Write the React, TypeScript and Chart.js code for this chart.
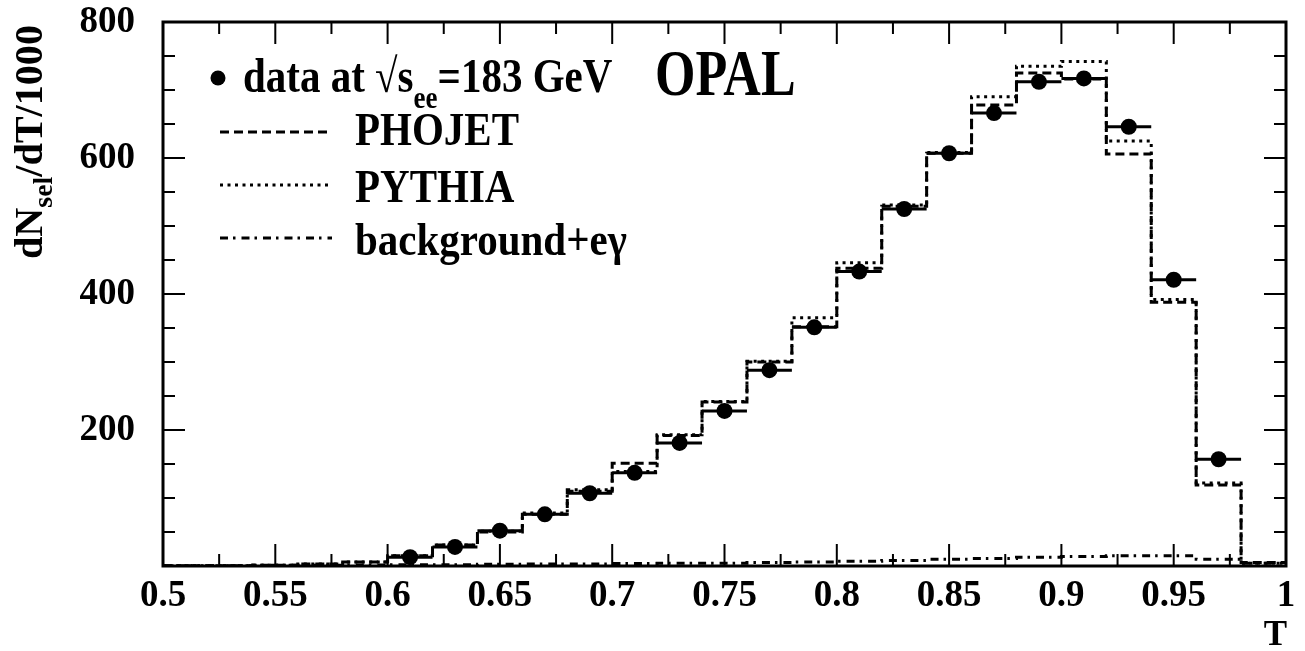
import React, { useEffect, useRef } from 'react';
import { Chart, registerables } from 'chart.js';

Chart.register(...registerables);

// ---- data ----
const BIN_EDGES = [0.5, 0.52, 0.54, 0.56, 0.58, 0.6, 0.62, 0.64, 0.66, 0.68, 0.7, 0.72, 0.74, 0.76, 0.78, 0.8, 0.82, 0.84, 0.86, 0.88, 0.9, 0.92, 0.94, 0.96, 0.98, 1.0];
const PHOJET = [0.5, 0.5, 1, 3, 6, 15, 31, 50, 76, 110, 151, 192, 241, 300, 352, 438, 529, 607, 678, 725, 716, 606, 388, 119, 5];
const PYTHIA = [0.5, 0.5, 1, 3, 6, 15, 31, 51, 78, 112, 139, 193, 242, 301, 365, 446, 531, 608, 690, 735, 742, 625, 392, 122, 4];
const BACKGROUND = [0.5, 0.5, 1, 1, 1.5, 2, 2, 2.5, 3, 3, 3.5, 4, 4, 5, 6, 7, 8, 10, 11, 13, 14, 15, 15, 10, 4];
const DATA_T = [0.61, 0.63, 0.65, 0.67, 0.69, 0.71, 0.73, 0.75, 0.77, 0.79, 0.81, 0.83, 0.85, 0.87, 0.89, 0.91, 0.93, 0.95, 0.97];
const DATA_N = [13, 28, 52, 76, 107, 137, 181, 228, 288, 351, 433, 525, 607, 666, 712, 717, 646, 421, 157];
const DATA_HALF_WIDTH = 0.01;

const X_TICK_VALUES = [0.5, 0.55, 0.6, 0.65, 0.7, 0.75, 0.8, 0.85, 0.9, 0.95, 1.0];
const X_TICK_LABELS = ['0.5', '0.55', '0.6', '0.65', '0.7', '0.75', '0.8', '0.85', '0.9', '0.95', '1'];
const Y_TICK_VALUES = [200, 400, 600, 800];
const Y_TICK_LABELS = ['200', '400', '600', '800'];
const X_MINOR_STEP = 0.025;
const Y_MINOR_STEP = 50;

const FONT = '"Liberation Serif", "Times New Roman", serif';

function stepPoints(values: number[]) {
  const pts: { x: number; y: number }[] = [];
  values.forEach((v, i) => {
    pts.push({ x: BIN_EDGES[i], y: v });
    pts.push({ x: BIN_EDGES[i + 1], y: v });
  });
  return pts;
}

function stretchText(ctx: CanvasRenderingContext2D, text: string, x: number, y: number, font: string, sy: number, align: CanvasTextAlign = 'left') {
  ctx.save();
  ctx.font = font;
  ctx.textAlign = align;
  ctx.textBaseline = 'alphabetic';
  ctx.translate(x, y);
  ctx.scale(1, sy);
  ctx.fillText(text, 0, 0);
  ctx.restore();
}

const decor = {
  id: 'decor',
  afterDatasetsDraw(chart: any) {
    const ctx: CanvasRenderingContext2D = chart.ctx;
    const xs = chart.scales.x;
    const ys = chart.scales.y;
    ctx.save();
    ctx.strokeStyle = '#000';
    ctx.lineWidth = 3;
    ctx.setLineDash([]);
    DATA_T.forEach((t, i) => {
      const y = ys.getPixelForValue(DATA_N[i]);
      ctx.beginPath();
      ctx.moveTo(xs.getPixelForValue(t - DATA_HALF_WIDTH), y);
      ctx.lineTo(xs.getPixelForValue(t + DATA_HALF_WIDTH), y);
      ctx.stroke();
    });
    ctx.restore();
  },
  afterDraw(chart: any) {
    const ctx: CanvasRenderingContext2D = chart.ctx;
    const xs = chart.scales.x;
    const ys = chart.scales.y;
    const a = chart.chartArea;
    ctx.save();
    ctx.strokeStyle = '#000';
    ctx.setLineDash([]);
    // ticks (inward, all sides)
    ctx.lineWidth = 2;
    const nx = Math.round((xs.max - xs.min) / X_MINOR_STEP);
    for (let k = 0; k <= nx; k++) {
      const v = xs.min + k * X_MINOR_STEP;
      const px = xs.getPixelForValue(v);
      const len = k % 2 === 0 ? 22 : 12;
      ctx.beginPath();
      ctx.moveTo(px, a.bottom);
      ctx.lineTo(px, a.bottom - len);
      ctx.moveTo(px, a.top);
      ctx.lineTo(px, a.top + len);
      ctx.stroke();
    }
    const ny = Math.round((ys.max - ys.min) / Y_MINOR_STEP);
    for (let k = 0; k <= ny; k++) {
      const v = ys.min + k * Y_MINOR_STEP;
      const py = ys.getPixelForValue(v);
      const len = k % 4 === 0 ? 22 : 12;
      ctx.beginPath();
      ctx.moveTo(a.left, py);
      ctx.lineTo(a.left + len, py);
      ctx.moveTo(a.right, py);
      ctx.lineTo(a.right - len, py);
      ctx.stroke();
    }
    // frame
    ctx.lineWidth = 3;
    ctx.strokeRect(a.left, a.top, a.right - a.left, a.bottom - a.top);

    // texts
    ctx.fillStyle = '#000';
    const mainFont = `bold 41px ${FONT}`;
    const subFont = `bold 27px ${FONT}`;
    ctx.beginPath();
    ctx.arc(218, 78, 7.5, 0, Math.PI * 2);
    ctx.fill();
    let x0 = 243;
    ctx.font = mainFont;
    const p1 = 'data at \u221As';
    stretchText(ctx, p1, x0, 92, mainFont, 1.16);
    x0 += ctx.measureText(p1).width;
    ctx.font = subFont;
    stretchText(ctx, 'ee', x0, 108, subFont, 1.16);
    x0 += ctx.measureText('ee').width;
    stretchText(ctx, '=183 GeV', x0, 92, mainFont, 1.16);
    // OPAL
    stretchText(ctx, 'OPAL', 655, 95, `bold 52px ${FONT}`, 1.24);
    // legend entries
    const entries = [
      { label: 'PHOJET', y: 145, ly: 132, dash: [9, 5] },
      { label: 'PYTHIA', y: 202, ly: 185, dash: [3, 4.5] },
      { label: 'background+e\u03B3', y: 255, ly: 238, dash: [8, 5, 2.5, 6] },
    ];
    entries.forEach((e) => {
      ctx.save();
      ctx.lineWidth = 3;
      ctx.setLineDash(e.dash);
      ctx.beginPath();
      ctx.moveTo(220, e.ly);
      ctx.lineTo(332, e.ly);
      ctx.stroke();
      ctx.restore();
      stretchText(ctx, e.label, 355, e.y, `bold 41px ${FONT}`, 1.13);
    });
    // x title
    stretchText(ctx, 'T', 1287, 645, `bold 35px ${FONT}`, 1.0, 'right');
    // y title (rotated)
    ctx.save();
    const tFont = `bold 39px ${FONT}`;
    const tSub = `bold 27px ${FONT}`;
    ctx.font = tFont;
    const w1 = ctx.measureText('dN').width;
    const w3 = ctx.measureText('/dT/1000').width;
    ctx.font = tSub;
    const w2 = ctx.measureText('sel').width;
    const W = w1 + w2 + w3;
    const k = 234 / W;
    ctx.translate(42, 259);
    ctx.rotate(-Math.PI / 2);
    ctx.scale(k, 1);
    ctx.textBaseline = 'alphabetic';
    ctx.textAlign = 'left';
    ctx.font = tFont;
    ctx.fillText('dN', 0, 0);
    ctx.font = tSub;
    ctx.fillText('sel', w1, 10);
    ctx.font = tFont;
    ctx.fillText('/dT/1000', w1 + w2, 0);
    ctx.restore();
    ctx.restore();
  },
};

export default function App() {
  const ref = useRef<HTMLCanvasElement | null>(null);
  useEffect(() => {
    if (!ref.current) return;
    const tickFont = { family: FONT, size: 37, weight: 'bold' as const, lineHeight: 1 };
    const chart = new Chart(ref.current, {
      type: 'line',
      data: {
        datasets: [
          {
            type: 'scatter',
            label: 'data',
            data: DATA_T.map((t, i) => ({ x: t, y: DATA_N[i] })),
            pointRadius: 8,
            pointBackgroundColor: '#000',
            pointBorderWidth: 0,
            order: 0,
          } as any,
          {
            label: 'PHOJET',
            data: stepPoints(PHOJET),
            borderColor: '#000',
            borderWidth: 3,
            borderDash: [9, 5],
            pointRadius: 0,
            fill: false,
            tension: 0,
            order: 1,
          },
          {
            label: 'PYTHIA',
            data: stepPoints(PYTHIA),
            borderColor: '#000',
            borderWidth: 3,
            borderDash: [3, 4.5],
            pointRadius: 0,
            fill: false,
            tension: 0,
            order: 2,
          },
          {
            label: 'background+eγ',
            data: stepPoints(BACKGROUND),
            borderColor: '#000',
            borderWidth: 3,
            borderDash: [8, 5, 2.5, 6],
            pointRadius: 0,
            fill: false,
            tension: 0,
            order: 3,
          },
        ],
      },
      options: {
        animation: false,
        responsive: false,
        devicePixelRatio: 1,
        layout: { padding: { top: 22, right: 19, left: 0, bottom: 0 } },
        plugins: { legend: { display: false }, tooltip: { enabled: false } },
        scales: {
          x: {
            type: 'linear',
            min: 0.5,
            max: 1.0,
            grid: { display: false, drawTicks: false },
            border: { display: false },
            afterBuildTicks: (s: any) => {
              s.ticks = X_TICK_VALUES.map((v) => ({ value: v }));
            },
            afterFit: (s: any) => {
              s.height = 85;
              s.paddingLeft = 0;
              s.paddingRight = 0;
              s.paddingTop = 0;
              s.paddingBottom = 0;
            },
            ticks: {
              color: '#000',
              font: tickFont,
              padding: 12,
              maxRotation: 0,
              autoSkip: false,
              callback: (_v: any, i: number) => X_TICK_LABELS[i],
            },
          },
          y: {
            type: 'linear',
            min: 0,
            max: 800,
            grid: { display: false, drawTicks: false },
            border: { display: false },
            afterBuildTicks: (s: any) => {
              s.ticks = Y_TICK_VALUES.map((v) => ({ value: v }));
            },
            afterFit: (s: any) => {
              s.width = 163;
              s.paddingLeft = 0;
              s.paddingRight = 0;
              s.paddingTop = 0;
              s.paddingBottom = 0;
            },
            ticks: {
              color: '#000',
              font: tickFont,
              padding: 28,
              autoSkip: false,
              callback: (_v: any, i: number) => Y_TICK_LABELS[i],
            },
          },
        },
      },
      plugins: [decor],
    });
    return () => chart.destroy();
  }, []);
  return (
    <div style={{ position: 'absolute', left: 0, top: 0, width: 1305, height: 651, background: '#fff' }}>
      <canvas ref={ref} width={1305} height={651} style={{ display: 'block' }} />
    </div>
  );
}
